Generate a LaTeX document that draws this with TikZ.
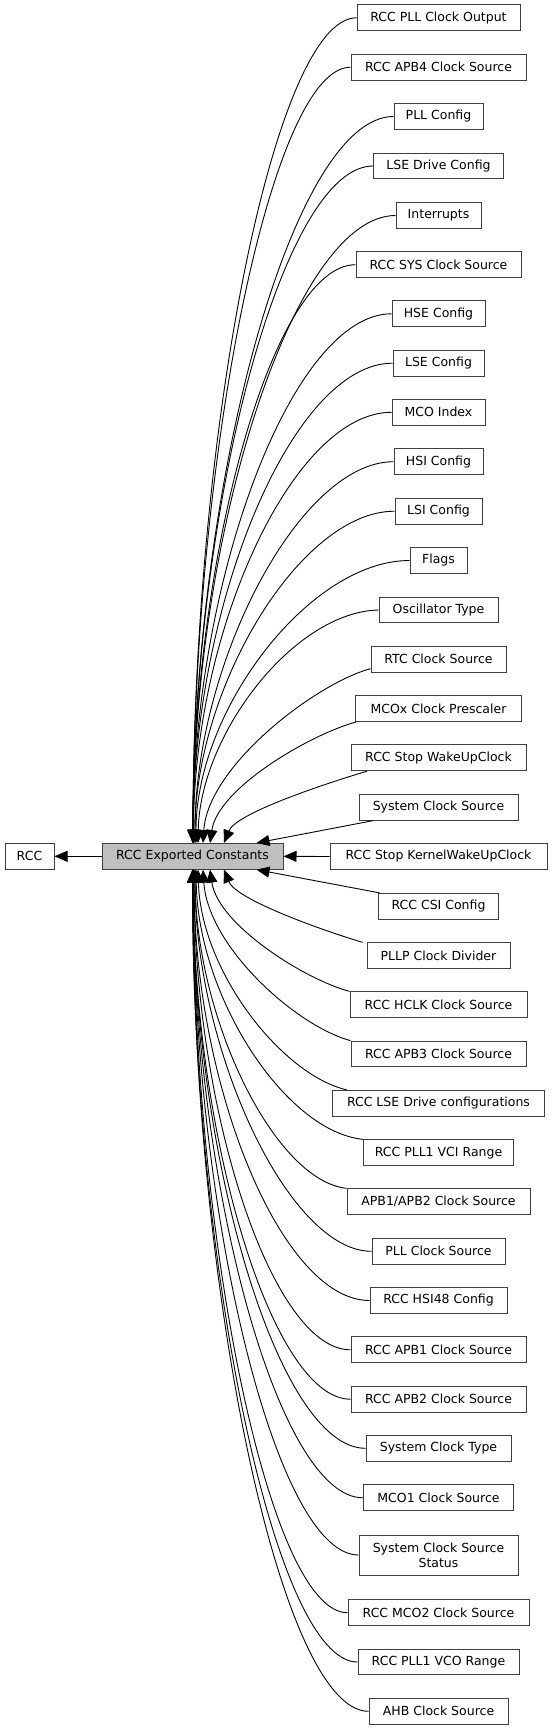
\documentclass[tikz,border=0pt]{standalone}
\usepackage{fontspec}
\setmainfont{DejaVu Sans}
\usetikzlibrary{arrows.meta}
\tikzset{
  box/.style={draw=black!75, line width=1pt, minimum height=25.7pt, inner sep=0pt, font=\fontsize{12.5}{15}\selectfont, align=center},
  hub/.style={box, fill=black!25},
  edge/.style={line width=0.9pt, -{Triangle[length=13pt,width=11pt]}}
}
\begin{document}
\begin{tikzpicture}[x=1pt,y=-1pt]
\useasboundingbox (0,0) rectangle (552,1729);
\node[box, minimum width=49pt] (rcc) at (29.5,856.3) {RCC};
\node[hub, minimum width=181pt] (ctr) at (192.5,856.3) {RCC Exported Constants};
\node[box, minimum width=163pt] (n0) at (438.5,17.8) {RCC PLL Clock Output};
\node[box, minimum width=175pt] (n1) at (438.5,67.2) {RCC APB4 Clock Source};
\node[box, minimum width=89pt] (n2) at (438.5,116.5) {PLL Config};
\node[box, minimum width=130pt] (n3) at (438.5,166) {LSE Drive Config};
\node[box, minimum width=85pt] (n4) at (438.5,215.5) {Interrupts};
\node[box, minimum width=165pt] (n5) at (438.5,264.7) {RCC SYS Clock Source};
\node[box, minimum width=93pt] (n6) at (438.5,313.8) {HSE Config};
\node[box, minimum width=91pt] (n7) at (438.5,363.2) {LSE Config};
\node[box, minimum width=93pt] (n8) at (438.5,412.3) {MCO Index};
\node[box, minimum width=89pt] (n9) at (438.5,461.7) {HSI Config};
\node[box, minimum width=87pt] (n10) at (438.5,511.2) {LSI Config};
\node[box, minimum width=57pt] (n11) at (438.5,560.5) {Flags};
\node[box, minimum width=119pt] (n12) at (438.5,610) {Oscillator Type};
\node[box, minimum width=135pt] (n13) at (438.5,659.3) {RTC Clock Source};
\node[box, minimum width=166pt] (n14) at (438.5,708.7) {MCOx Clock Prescaler};
\node[box, minimum width=175pt] (n15) at (438.5,757.8) {RCC Stop WakeUpClock};
\node[box, minimum width=159pt] (n16) at (438.5,807.3) {System Clock Source};
\node[box, minimum width=217pt] (n17) at (438.5,856.5) {RCC Stop KernelWakeUpClock};
\node[box, minimum width=120pt] (n18) at (438.5,906.2) {RCC CSI Config};
\node[box, minimum width=143pt] (n19) at (438.5,955.7) {PLLP Clock Divider};
\node[box, minimum width=177pt] (n20) at (438.5,1004.7) {RCC HCLK Clock Source};
\node[box, minimum width=175pt] (n21) at (438.5,1054) {RCC APB3 Clock Source};
\node[box, minimum width=212pt] (n22) at (438.5,1103.3) {RCC LSE Drive configurations};
\node[box, minimum width=150pt] (n23) at (438.5,1152.7) {RCC PLL1 VCI Range};
\node[box, minimum width=183pt] (n24) at (438.5,1201.7) {APB1/APB2 Clock Source};
\node[box, minimum width=133pt] (n25) at (438.5,1251.3) {PLL Clock Source};
\node[box, minimum width=137pt] (n26) at (438.5,1300.5) {RCC HSI48 Config};
\node[box, minimum width=175pt] (n27) at (438.5,1349.8) {RCC APB1 Clock Source};
\node[box, minimum width=175pt] (n28) at (438.5,1399.2) {RCC APB2 Clock Source};
\node[box, minimum width=145pt] (n29) at (438.5,1448.3) {System Clock Type};
\node[box, minimum width=150pt] (n30) at (438.5,1497.8) {MCO1 Clock Source};
\node[box, minimum width=159pt, minimum height=40pt] (n31) at (438.5,1555) {System Clock Source\\Status};
\node[box, minimum width=181pt] (n32) at (438.5,1612.7) {RCC MCO2 Clock Source};
\node[box, minimum width=161pt] (n33) at (438.5,1662) {RCC PLL1 VCO Range};
\node[box, minimum width=139pt] (n34) at (438.5,1711.3) {AHB Clock Source};
% hub to RCC
\draw[edge] (ctr.west) -- (rcc.east);
% upper edges
\draw[edge] (n0.west) .. controls +(-82,0) and +(0,-413) .. ([xshift=0.5pt]ctr.north);
\draw[edge] (n1.west) .. controls +(-79,0) and +(0,-388) .. ([xshift=0.5pt]ctr.north);
\draw[edge] (n2.west) .. controls +(-100,0) and +(0,-364) .. ([xshift=0.5pt]ctr.north);
\draw[edge] (n3.west) .. controls +(-90,0) and +(0,-339) .. ([xshift=0.5pt]ctr.north);
\draw[edge] (n4.west) .. controls +(-101,0) and +(0,-314) .. ([xshift=0.5pt]ctr.north);
\draw[edge] (n5.west) .. controls +(-82,0) and +(0,-290) .. ([xshift=0.5pt]ctr.north);
\draw[edge] (n6.west) .. controls +(-99,0) and +(0,-265) .. ([xshift=0.5pt]ctr.north);
\draw[edge] (n7.west) .. controls +(-100,0) and +(0,-240) .. ([xshift=0.5pt]ctr.north);
\draw[edge] (n8.west) .. controls +(-98,0) and +(0,-214) .. ([xshift=1pt]ctr.north);
\draw[edge] (n9.west) .. controls +(-94,0) and +(0,-180) .. ([xshift=2.5pt]ctr.north);
\draw[edge] (n10.west) .. controls +(-94,0) and +(0,-156) .. ([xshift=2.5pt]ctr.north);
\draw[edge] (n11.west) .. controls +(-100,0) and +(0,-133) .. ([xshift=3.5pt]ctr.north);
\draw[edge] (n12.west) .. controls +(-85,2) and +(2,-108) .. ([xshift=5.5pt]ctr.north);
\draw[edge] ([yshift=4pt]n13.south west) .. controls +(-55,15) and +(5,-77) .. ([xshift=10.5pt]ctr.north);
\draw[edge] ([xshift=1pt]n14.south west) .. controls +(-45,12) and +(8,-55) .. ([xshift=17.5pt]ctr.north);
\draw[edge] ([xshift=-71.5pt]n15.south) .. controls +(-40,12) and +(12,-30) .. ([xshift=31.5pt]ctr.north);
\draw[edge] ([xshift=-65.5pt]n16.south) -- ([xshift=64pt]ctr.north);
\draw[edge] (n17.west) -- (ctr.east);
% lower edges
\draw[edge] ([xshift=-59pt]n18.north) -- ([xshift=64pt]ctr.south);
\draw[edge] ([xshift=-4pt]n19.north west) .. controls +(-40,-12) and +(12,30) .. ([xshift=31.5pt]ctr.south);
\draw[edge] (n20.north west) .. controls +(-45,-12) and +(8,55) .. ([xshift=17.5pt]ctr.south);
\draw[edge] (n21.north west) .. controls +(-55,-15) and +(5,77) .. ([xshift=10.5pt]ctr.south);
\draw[edge] ([xshift=15pt]n22.north west) .. controls +(-65,-15) and +(3,102) .. ([xshift=5.5pt]ctr.south);
\draw[edge] (n23.north west) .. controls +(-78,-8) and +(2,127) .. ([xshift=3.5pt]ctr.south);
\draw[edge] (n24.north west) .. controls +(-72,-8) and +(1,150) .. ([xshift=2.5pt]ctr.south);
\draw[edge] (n25.west) .. controls +(-83,0) and +(0,180) .. ([xshift=2.5pt]ctr.south);
\draw[edge] (n26.west) .. controls +(-88,0) and +(0,216) .. ([xshift=1.5pt]ctr.south);
\draw[edge] (n27.west) .. controls +(-79,0) and +(0,240) .. ([xshift=1.5pt]ctr.south);
\draw[edge] (n28.west) .. controls +(-79,0) and +(0,265) .. ([xshift=0.5pt]ctr.south);
\draw[edge] (n29.west) .. controls +(-87,0) and +(0,290) .. ([xshift=0.5pt]ctr.south);
\draw[edge] (n30.west) .. controls +(-85,0) and +(0,314) .. ([xshift=0.5pt]ctr.south);
\draw[edge] (n31.west) .. controls +(-83,0) and +(0,343) .. ([xshift=0.5pt]ctr.south);
\draw[edge] (n32.west) .. controls +(-78,0) and +(0,372) .. ([xshift=0.5pt]ctr.south);
\draw[edge] (n33.west) .. controls +(-83,0) and +(0,396) .. (ctr.south);
\draw[edge] (n34.west) .. controls +(-88,0) and +(0,421) .. (ctr.south);
\end{tikzpicture}
\end{document}
